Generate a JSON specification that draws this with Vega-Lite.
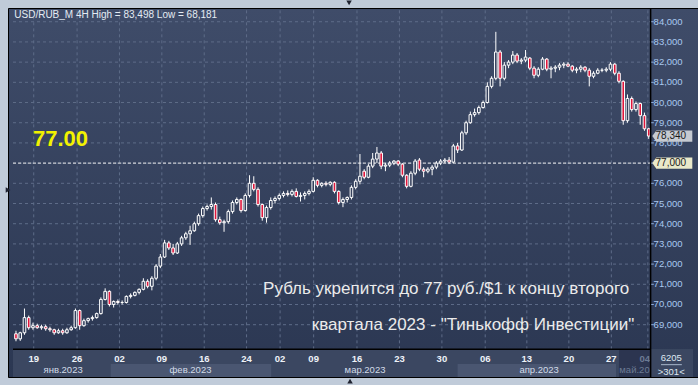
{
 "$schema": "https://vega.github.io/schema/vega-lite/v6.json",
 "width": 690,
 "height": 369,
 "autosize": {"type": "none"},
 "padding": {"left": 8, "top": 8, "right": 0, "bottom": 8},
 "background": "#c0cbd9",
 "config": {"view": {"stroke": "#000000", "strokeWidth": 1, "fill": {"gradient": "linear", "x1": 0, "y1": 0, "x2": 0, "y2": 1, "stops": [{"offset": 0, "color": "#3f4c69"}, {"offset": 1, "color": "#2b3752"}]}}, "text": {"font": "Liberation Sans"}},
 "datasets": {
  "bars": [
   {"i":0,"o":68.55,"h":68.7,"l":68.18,"c":68.3},{"i":1,"o":68.3,"h":68.65,"l":68.2,"c":68.6},{"i":2,"o":68.6,"h":69.8,"l":68.5,"c":69.35},{"i":3,"o":69.35,"h":69.45,"l":68.75,"c":68.85},{"i":4,"o":68.85,"h":69.1,"l":68.75,"c":68.95},{"i":5,"o":68.95,"h":69.05,"l":68.8,"c":68.85},{"i":6,"o":68.85,"h":69.0,"l":68.75,"c":68.9},{"i":7,"o":68.9,"h":69.0,"l":68.7,"c":68.8},{"i":8,"o":68.8,"h":68.9,"l":68.65,"c":68.75},{"i":9,"o":68.75,"h":68.8,"l":68.5,"c":68.6},
   {"i":10,"o":68.6,"h":68.8,"l":68.55,"c":68.7},{"i":11,"o":68.7,"h":68.8,"l":68.5,"c":68.6},{"i":12,"o":68.6,"h":68.85,"l":68.55,"c":68.75},{"i":13,"o":68.75,"h":68.95,"l":68.7,"c":68.85},{"i":14,"o":68.85,"h":69.8,"l":68.8,"c":69.7},{"i":15,"o":69.7,"h":69.75,"l":68.75,"c":68.95},{"i":16,"o":68.95,"h":69.3,"l":68.9,"c":69.2},{"i":17,"o":69.2,"h":69.35,"l":69.1,"c":69.3},{"i":18,"o":69.3,"h":69.45,"l":69.2,"c":69.35},{"i":19,"o":69.35,"h":69.6,"l":69.3,"c":69.55},
   {"i":20,"o":69.55,"h":70.35,"l":69.5,"c":70.25},{"i":21,"o":70.25,"h":70.8,"l":70.2,"c":70.65},{"i":22,"o":70.65,"h":70.7,"l":69.9,"c":70.0},{"i":23,"o":70.0,"h":70.2,"l":69.85,"c":70.15},{"i":24,"o":70.15,"h":70.25,"l":70.0,"c":70.1},{"i":25,"o":70.1,"h":70.2,"l":70.0,"c":70.1},{"i":26,"o":70.1,"h":70.45,"l":70.05,"c":70.4},{"i":27,"o":70.4,"h":70.55,"l":70.3,"c":70.45},{"i":28,"o":70.45,"h":70.65,"l":70.4,"c":70.6},{"i":29,"o":70.6,"h":70.8,"l":70.5,"c":70.75},
   {"i":30,"o":70.75,"h":71.3,"l":70.7,"c":71.15},{"i":31,"o":71.15,"h":71.25,"l":70.8,"c":70.9},{"i":32,"o":70.9,"h":71.4,"l":70.7,"c":71.3},{"i":33,"o":71.3,"h":72.0,"l":71.2,"c":71.9},{"i":34,"o":71.9,"h":72.5,"l":71.8,"c":72.35},{"i":35,"o":72.35,"h":73.2,"l":72.3,"c":73.05},{"i":36,"o":73.05,"h":73.15,"l":72.7,"c":72.8},{"i":37,"o":72.8,"h":73.0,"l":72.45,"c":72.55},{"i":38,"o":72.55,"h":73.1,"l":72.5,"c":73.0},{"i":39,"o":73.0,"h":73.4,"l":72.9,"c":73.3},
   {"i":40,"o":73.3,"h":73.6,"l":73.2,"c":73.5},{"i":41,"o":73.5,"h":73.9,"l":72.95,"c":73.65},{"i":42,"o":73.65,"h":74.1,"l":73.6,"c":74.0},{"i":43,"o":74.0,"h":74.5,"l":73.9,"c":74.4},{"i":44,"o":74.4,"h":74.85,"l":74.3,"c":74.75},{"i":45,"o":74.75,"h":74.95,"l":74.65,"c":74.85},{"i":46,"o":74.85,"h":75.3,"l":74.7,"c":74.95},{"i":47,"o":74.95,"h":75.05,"l":74.1,"c":74.2},{"i":48,"o":74.2,"h":74.35,"l":73.95,"c":74.05},{"i":49,"o":74.05,"h":74.2,"l":73.6,"c":74.1},
   {"i":50,"o":74.1,"h":74.7,"l":74.0,"c":74.6},{"i":51,"o":74.6,"h":75.15,"l":74.5,"c":75.05},{"i":52,"o":75.05,"h":75.3,"l":74.95,"c":75.2},{"i":53,"o":75.2,"h":75.25,"l":74.55,"c":74.65},{"i":54,"o":74.65,"h":75.5,"l":74.6,"c":75.4},{"i":55,"o":75.4,"h":76.4,"l":75.3,"c":76.0},{"i":56,"o":76.0,"h":76.35,"l":75.6,"c":75.7},{"i":57,"o":75.7,"h":75.8,"l":74.85,"c":74.95},{"i":58,"o":74.95,"h":75.0,"l":74.15,"c":74.3},{"i":59,"o":74.3,"h":74.9,"l":74.05,"c":74.8},
   {"i":60,"o":74.8,"h":75.3,"l":74.7,"c":75.15},{"i":61,"o":75.15,"h":75.35,"l":75.0,"c":75.25},{"i":62,"o":75.25,"h":75.5,"l":75.15,"c":75.4},{"i":63,"o":75.4,"h":75.6,"l":75.3,"c":75.5},{"i":64,"o":75.5,"h":75.65,"l":75.35,"c":75.45},{"i":65,"o":75.45,"h":75.7,"l":75.35,"c":75.6},{"i":66,"o":75.6,"h":75.75,"l":75.3,"c":75.35},{"i":67,"o":75.35,"h":75.55,"l":75.1,"c":75.4},{"i":68,"o":75.4,"h":75.6,"l":75.2,"c":75.5},{"i":69,"o":75.5,"h":75.7,"l":75.4,"c":75.6},
   {"i":70,"o":75.6,"h":76.3,"l":75.55,"c":76.15},{"i":71,"o":76.15,"h":76.2,"l":75.8,"c":75.9},{"i":72,"o":75.9,"h":76.05,"l":75.8,"c":76.0},{"i":73,"o":76.0,"h":76.1,"l":75.85,"c":75.95},{"i":74,"o":75.95,"h":76.1,"l":75.85,"c":76.05},{"i":75,"o":76.05,"h":76.1,"l":75.5,"c":75.6},{"i":76,"o":75.6,"h":75.65,"l":74.95,"c":75.05},{"i":77,"o":75.05,"h":75.3,"l":74.82,"c":75.2},{"i":78,"o":75.2,"h":75.35,"l":75.05,"c":75.3},{"i":79,"o":75.3,"h":75.9,"l":75.2,"c":75.8},
   {"i":80,"o":75.8,"h":76.2,"l":75.7,"c":76.1},{"i":81,"o":76.1,"h":77.45,"l":75.95,"c":76.35},{"i":82,"o":76.6,"h":76.7,"l":76.2,"c":76.3},{"i":83,"o":76.3,"h":76.95,"l":76.25,"c":76.85},{"i":84,"o":76.85,"h":77.5,"l":76.75,"c":77.2},{"i":85,"o":77.2,"h":77.8,"l":77.0,"c":77.5},{"i":86,"o":77.5,"h":77.6,"l":76.7,"c":76.85},{"i":87,"o":76.85,"h":77.0,"l":76.6,"c":76.9},{"i":88,"o":76.9,"h":77.1,"l":76.8,"c":77.0},{"i":89,"o":77.0,"h":77.15,"l":76.9,"c":77.1},
   {"i":90,"o":77.1,"h":77.15,"l":76.85,"c":76.95},{"i":91,"o":76.95,"h":77.0,"l":76.3,"c":76.4},{"i":92,"o":76.4,"h":76.45,"l":75.75,"c":75.85},{"i":93,"o":75.85,"h":76.6,"l":75.8,"c":76.5},{"i":94,"o":76.5,"h":77.2,"l":76.4,"c":77.1},{"i":95,"o":77.15,"h":77.25,"l":76.6,"c":76.7},{"i":96,"o":76.7,"h":76.8,"l":76.3,"c":76.6},{"i":97,"o":76.6,"h":76.8,"l":76.5,"c":76.7},{"i":98,"o":76.7,"h":76.9,"l":76.4,"c":76.8},{"i":99,"o":76.8,"h":77.1,"l":76.7,"c":77.0},
   {"i":100,"o":77.0,"h":77.2,"l":76.9,"c":77.1},{"i":101,"o":77.1,"h":77.25,"l":77.0,"c":77.15},{"i":102,"o":77.15,"h":77.3,"l":76.95,"c":77.05},{"i":103,"o":77.05,"h":77.95,"l":77.0,"c":77.85},{"i":104,"o":77.85,"h":78.0,"l":77.5,"c":77.65},{"i":105,"o":77.65,"h":78.6,"l":77.6,"c":78.5},{"i":106,"o":78.5,"h":79.1,"l":78.4,"c":79.0},{"i":107,"o":79.0,"h":79.55,"l":78.95,"c":79.4},{"i":108,"o":79.4,"h":79.7,"l":79.3,"c":79.5},{"i":109,"o":79.5,"h":79.85,"l":79.4,"c":79.75},
   {"i":110,"o":79.75,"h":80.1,"l":79.7,"c":80.0},{"i":111,"o":80.0,"h":81.0,"l":79.95,"c":80.8},{"i":112,"o":80.8,"h":81.3,"l":80.7,"c":81.2},{"i":113,"o":81.2,"h":83.5,"l":81.1,"c":82.5},{"i":114,"o":82.5,"h":82.6,"l":80.8,"c":81.2},{"i":115,"o":81.2,"h":82.0,"l":81.1,"c":81.85},{"i":116,"o":81.85,"h":82.1,"l":81.7,"c":82.0},{"i":117,"o":82.0,"h":82.55,"l":81.9,"c":82.35},{"i":118,"o":82.35,"h":82.45,"l":81.95,"c":82.05},{"i":119,"o":82.05,"h":82.2,"l":81.9,"c":82.1},
   {"i":120,"o":82.1,"h":82.6,"l":82.0,"c":82.25},{"i":121,"o":82.2,"h":82.25,"l":81.6,"c":81.7},{"i":122,"o":81.7,"h":81.8,"l":81.2,"c":81.35},{"i":123,"o":81.35,"h":81.75,"l":81.25,"c":81.65},{"i":124,"o":81.65,"h":82.25,"l":81.6,"c":82.15},{"i":125,"o":82.15,"h":82.2,"l":81.55,"c":81.65},{"i":126,"o":81.65,"h":81.8,"l":81.2,"c":81.7},{"i":127,"o":81.7,"h":81.85,"l":81.5,"c":81.75},{"i":128,"o":81.75,"h":81.95,"l":81.6,"c":81.85},{"i":129,"o":81.85,"h":82.0,"l":81.7,"c":81.9},
   {"i":130,"o":81.9,"h":82.0,"l":81.75,"c":81.8},{"i":131,"o":81.8,"h":81.85,"l":81.5,"c":81.6},{"i":132,"o":81.6,"h":81.75,"l":81.45,"c":81.65},{"i":133,"o":81.65,"h":81.85,"l":81.5,"c":81.75},{"i":134,"o":81.75,"h":81.8,"l":81.5,"c":81.6},{"i":135,"o":81.6,"h":81.7,"l":80.8,"c":81.3},{"i":136,"o":81.3,"h":81.55,"l":81.2,"c":81.45},{"i":137,"o":81.45,"h":81.7,"l":81.4,"c":81.6},{"i":138,"o":81.6,"h":81.7,"l":81.5,"c":81.6},{"i":139,"o":81.6,"h":81.75,"l":81.5,"c":81.65},
   {"i":140,"o":81.65,"h":82.0,"l":81.55,"c":81.9},{"i":141,"o":81.9,"h":81.95,"l":81.35,"c":81.45},{"i":142,"o":81.45,"h":81.55,"l":80.95,"c":81.05},{"i":143,"o":81.05,"h":81.1,"l":78.9,"c":79.1},{"i":144,"o":79.1,"h":80.4,"l":79.0,"c":80.2},{"i":145,"o":80.2,"h":80.3,"l":79.55,"c":79.65},{"i":146,"o":79.65,"h":80.05,"l":79.55,"c":79.95},{"i":147,"o":79.95,"h":80.0,"l":78.9,"c":79.35},{"i":148,"o":79.35,"h":79.5,"l":78.6,"c":78.7},{"i":149,"o":78.7,"h":78.75,"l":78.2,"c":78.34}
  ],
  "weeks": [
   {"i":4.18,"d":"19"},{"i":14.39,"d":"26"},{"i":24.37,"d":"02"},{"i":34.35,"d":"09"},{"i":44.33,"d":"16"},{"i":54.3,"d":"24"},{"i":62.2,"d":"02"},{"i":70.1,"d":"09"},{"i":80.3,"d":"16"},{"i":90.3,"d":"23"},{"i":100.3,"d":"30"},{"i":110.5,"d":"06"},{"i":120.3,"d":"13"},{"i":130.2,"d":"20"},{"i":140.2,"d":"27"},{"i":148.8,"d":"04"}
  ],
  "months": [
   {"m":"янв.2023","a":-0.7,"b":22.3,"c":11.1},{"m":"фев.2023","a":22.3,"b":60.1,"c":41.1},{"m":"мар.2023","a":60.1,"b":104.0,"c":82.2},{"m":"апр.2023","a":104.0,"b":141.3,"c":123.2},{"m":"май.2023","a":142.0,"b":149.45,"c":146.9}
  ],
  "prices": [{"p":69,"t":"69,000"},{"p":70,"t":"70,000"},{"p":71,"t":"71,000"},{"p":72,"t":"72,000"},{"p":73,"t":"73,000"},{"p":74,"t":"74,000"},{"p":75,"t":"75,000"},{"p":76,"t":"76,000"},{"p":77,"t":"77,000"},{"p":78,"t":"78,000"},{"p":79,"t":"79,000"},{"p":80,"t":"80,000"},{"p":81,"t":"81,000"},{"p":82,"t":"82,000"},{"p":83,"t":"83,000"},{"p":84,"t":"84,000"}],
  "tags": [{"p":78.34,"lab":"78,340"},{"p":77,"lab":"77,000"}]
 },
 "layer": [
  {
   "data": {"values": [{}]},
   "mark": {"type": "rect", "color": "#3b4761"},
   "encoding": {
    "x": {"datum": -0.7, "type": "quantitative", "scale": {"domain": [-0.7, 159.43], "nice": false, "zero": false}, "axis": null},
    "x2": {"datum": 159.43},
    "y": {"datum": 66.41, "type": "quantitative", "scale": {"domain": [66.41, 84.68], "nice": false, "zero": false}, "axis": null},
    "y2": {"datum": 67.78}
   }
  },
  {
   "data": {"name": "months"},
   "transform": [{"filter": "datum.m == 'фев.2023' || datum.m == 'апр.2023'"}],
   "mark": {"type": "rect", "color": "#4a5671"},
   "encoding": {"x": {"field": "a", "type": "quantitative", "axis": null}, "x2": {"field": "b"}, "y": {"datum": 66.41, "type": "quantitative", "axis": null}, "y2": {"datum": 67.05}}
  },
  {
   "data": {"name": "months"},
   "transform": [{"filter": "datum.m == 'май.2023'"}],
   "mark": {"type": "rect", "color": "#2c3550"},
   "encoding": {"x": {"field": "a", "type": "quantitative", "axis": null}, "x2": {"field": "b"}, "y": {"datum": 66.41, "type": "quantitative", "axis": null}, "y2": {"datum": 67.78}}
  },
  {
   "data": {"name": "prices"},
   "mark": {"type": "rule", "color": "#5e6c88", "strokeDash": [3, 3], "strokeWidth": 1},
   "encoding": {"y": {"field": "p", "type": "quantitative", "axis": null}, "x": {"datum": -0.7, "type": "quantitative", "axis": null}, "x2": {"datum": 149.45}}
  },
  {
   "data": {"name": "weeks"},
   "mark": {"type": "rule", "color": "#5e6c88", "strokeDash": [3, 3], "strokeWidth": 1},
   "encoding": {"x": {"field": "i", "type": "quantitative", "axis": null}, "y": {"datum": 67.78, "type": "quantitative", "axis": null}, "y2": {"datum": 84.68}}
  },
  {
   "data": {"values": [{}]},
   "mark": {"type": "rule", "color": "#ececec", "strokeDash": [3, 2], "strokeWidth": 1},
   "encoding": {"y": {"datum": 77, "type": "quantitative", "axis": null}, "x": {"datum": -0.7, "type": "quantitative", "axis": null}, "x2": {"datum": 149.45}}
  },
  {
   "data": {"name": "bars"},
   "mark": {"type": "rule", "color": "#ffffff", "strokeWidth": 1},
   "encoding": {"x": {"field": "i", "type": "quantitative", "axis": null}, "y": {"field": "h", "type": "quantitative", "axis": null}, "y2": {"field": "l"}}
  },
  {
   "data": {"name": "bars"},
   "mark": {"type": "bar", "width": 2.6, "stroke": "#ffffff", "strokeWidth": 1},
   "encoding": {
    "x": {"field": "i", "type": "quantitative", "axis": null},
    "y": {"field": "o", "type": "quantitative", "axis": null},
    "y2": {"field": "c"},
    "fill": {"condition": {"test": "datum.c < datum.o", "value": "#e0163b"}, "value": "#35415d"}
   }
  },
  {
   "data": {"values": [{}]},
   "mark": {"type": "rule", "color": "#000000", "strokeWidth": 1.5},
   "encoding": {"y": {"datum": 67.78, "type": "quantitative", "axis": null}, "x": {"datum": -0.7, "type": "quantitative", "axis": null}, "x2": {"datum": 149.45}}
  },
  {
   "data": {"name": "weeks"},
   "transform": [{"filter": "datum.d != '04' || datum.i < 140"}],
   "mark": {"type": "text", "fontSize": 9.5, "fontWeight": "bold", "color": "#eef2f8", "baseline": "middle", "align": "center"},
   "encoding": {"x": {"field": "i", "type": "quantitative", "axis": null}, "y": {"datum": 67.3, "type": "quantitative", "axis": null}, "text": {"field": "d"}}
  },
  {
   "data": {"name": "weeks"},
   "transform": [{"filter": "datum.d == '04' && datum.i > 140"}],
   "mark": {"type": "text", "fontSize": 9.5, "fontWeight": "bold", "color": "#6d7b94", "baseline": "middle", "align": "center", "dx": -3},
   "encoding": {"x": {"field": "i", "type": "quantitative", "axis": null}, "y": {"datum": 67.3, "type": "quantitative", "axis": null}, "text": {"field": "d"}}
  },
  {
   "data": {"name": "months"},
   "mark": {"type": "text", "fontSize": 9.5, "baseline": "middle", "align": "center"},
   "encoding": {
    "x": {"field": "c", "type": "quantitative", "axis": null},
    "y": {"datum": 66.74, "type": "quantitative", "axis": null},
    "text": {"field": "m"},
    "color": {"condition": {"test": "datum.m == 'май.2023'", "value": "#6d7b94"}, "value": "#d2dbe8"}
   }
  },
  {
   "data": {"values": [{}]},
   "mark": {"type": "rect", "color": "#3b4761"},
   "encoding": {"x": {"datum": 149.45, "type": "quantitative", "axis": null}, "x2": {"datum": 159.43}, "y": {"datum": 66.41, "type": "quantitative", "axis": null}, "y2": {"datum": 67.78}}
  },
  {
   "data": {"values": [{}]},
   "mark": {"type": "rule", "color": "#000000", "strokeWidth": 1.5},
   "encoding": {"x": {"datum": 149.45, "type": "quantitative", "axis": null}, "y": {"datum": 66.41, "type": "quantitative", "axis": null}, "y2": {"datum": 84.68}}
  },
  {
   "data": {"name": "prices"},
   "mark": {"type": "rule", "color": "#8fb0e0", "strokeWidth": 1},
   "encoding": {"y": {"field": "p", "type": "quantitative", "axis": null}, "x": {"datum": 149.6, "type": "quantitative", "axis": null}, "x2": {"datum": 150.2}}
  },
  {
   "data": {"name": "prices"},
   "mark": {"type": "text", "fontSize": 9.5, "color": "#a9c8f0", "baseline": "middle", "align": "left"},
   "encoding": {"y": {"field": "p", "type": "quantitative", "axis": null}, "x": {"datum": 150.15, "type": "quantitative", "axis": null}, "text": {"field": "t"}}
  },
  {
   "data": {"values": [{}]},
   "mark": {"type": "rule", "color": "#a9b8cc", "strokeWidth": 1},
   "encoding": {"y": {"datum": 67.02, "type": "quantitative", "axis": null}, "x": {"datum": 151.9, "type": "quantitative", "axis": null}, "x2": {"datum": 156.8}}
  },
  {
   "data": {"values": [{"t": "6205", "v": 67.33}, {"t": ">301<", "v": 66.67}]},
   "mark": {"type": "text", "fontSize": 9.5, "color": "#dfe7f2", "baseline": "middle", "align": "center"},
   "encoding": {"x": {"datum": 154.3, "type": "quantitative", "axis": null}, "y": {"field": "v", "type": "quantitative", "axis": null}, "text": {"field": "t"}}
  },
  {
   "data": {"name": "tags"},
   "mark": {"type": "point", "filled": true, "size": 1600, "strokeWidth": 0, "opacity": 1,
     "shape": "M -1 0 L -0.8 -0.28 L 1 -0.28 L 1 0.28 L -0.8 0.28 Z"},
   "encoding": {
    "x": {"datum": 154.56, "type": "quantitative", "axis": null},
    "y": {"field": "p", "type": "quantitative", "axis": null},
    "color": {"condition": {"test": "datum.p == 77", "value": "#e9e8c9"}, "value": "#c6cad1"}
   }
  },
  {
   "data": {"name": "tags"},
   "mark": {"type": "text", "fontSize": 10, "color": "#1a1a1a", "baseline": "middle", "align": "left"},
   "encoding": {"x": {"datum": 150.6, "type": "quantitative", "axis": null}, "y": {"field": "p", "type": "quantitative", "axis": null}, "text": {"field": "lab"}}
  },
  {
   "data": {"values": [{}]},
   "mark": {"type": "text", "text": "USD/RUB_M 4H High = 83,498 Low = 68,181", "fontSize": 10, "color": "#e4ebf3", "baseline": "middle", "align": "left"},
   "encoding": {"x": {"datum": -0.4, "type": "quantitative", "axis": null}, "y": {"datum": 84.33, "type": "quantitative", "axis": null}}
  },
  {
   "data": {"values": [{}]},
   "mark": {"type": "text", "text": "77.00", "fontSize": 22, "fontWeight": "bold", "color": "#f2f200", "baseline": "middle", "align": "left"},
   "encoding": {"x": {"datum": 4.0, "type": "quantitative", "axis": null}, "y": {"datum": 78.19, "type": "quantitative", "axis": null}}
  },
  {
   "data": {"values": [{}]},
   "mark": {"type": "text", "text": "Рубль укрепится до 77 руб./$1 к концу второго", "fontSize": 17, "color": "#ebebeb", "baseline": "middle", "align": "right"},
   "encoding": {"x": {"datum": 144.4, "type": "quantitative", "axis": null}, "y": {"datum": 70.77, "type": "quantitative", "axis": null}}
  },
  {
   "data": {"values": [{}]},
   "mark": {"type": "text", "text": "квартала 2023 - \"Тинькофф Инвестиции\"", "fontSize": 17, "color": "#ebebeb", "baseline": "middle", "align": "right"},
   "encoding": {"x": {"datum": 145.6, "type": "quantitative", "axis": null}, "y": {"datum": 68.98, "type": "quantitative", "axis": null}}
  },
  {
   "data": {"values": [{"s": "triangle-down", "a": 78.44, "b": 84.93}, {"s": "triangle-right", "a": -1.86, "b": 75.67}, {"s": "triangle-up", "a": 78.67, "b": 66.2}]},
   "mark": {"type": "point", "filled": true, "size": 30, "color": "#1e2230", "opacity": 1, "clip": false},
   "encoding": {"x": {"field": "a", "type": "quantitative", "axis": null}, "y": {"field": "b", "type": "quantitative", "axis": null}, "shape": {"field": "s", "type": "nominal", "scale": null, "legend": null}}
  }
 ]
}
